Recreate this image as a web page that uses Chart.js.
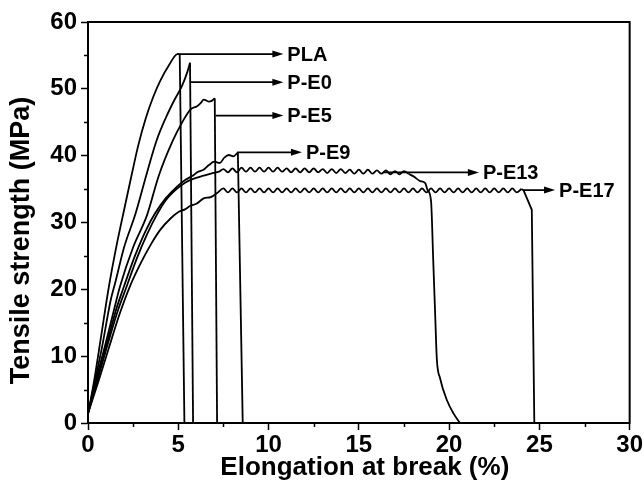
<!DOCTYPE html>
<html>
<head>
<meta charset="utf-8">
<script src="https://cdn.jsdelivr.net/npm/chart.js@4/dist/chart.umd.min.js"></script>
<style>
  html, body { margin: 0; padding: 0; background: #fff; }
  canvas { display: block; }
</style>
</head>
<body>
<canvas id="c" width="644" height="492"></canvas>
<script>
// Stress–strain curves: strain (%) and stress (MPa) for each blend.
const plaStrain = [0.02, 0.35, 0.7, 1.15, 1.6, 2.04, 2.44, 2.78, 3.2, 3.6, 4.0, 4.5, 4.95, 5.08];
const plaStress = [1.6, 6.5, 12.5, 20.3, 26.8, 32.4, 37.4, 41.5, 45.6, 48.7, 51.2, 53.6, 55.2, 55.2];
const plaBreakStrain = [5.08, 5.34];
const plaBreakStress = [55.2, 0];

const pe0Strain = [0.02, 0.4, 0.78, 1.25, 1.5, 2.0, 2.63, 3.24, 3.79, 4.3, 4.8, 5.2, 5.5, 5.65];
const pe0Stress = [1.6, 6.5, 11.4, 18.3, 20.9, 26.3, 31.3, 37.2, 42.2, 45.6, 48.4, 50.4, 52.5, 53.9];
const pe0BreakStrain = [5.65, 5.82];
const pe0BreakStress = [53.9, 0];

const pe5Strain = [0.02, 0.45, 0.93, 1.4, 1.78, 2.5, 3.27, 3.92, 4.69, 5.2, 5.67, 6.04, 6.25, 6.41, 6.69, 6.85, 7.02];
const pe5Stress = [1.6, 6.5, 11.4, 16.5, 20.5, 26.3, 31.1, 37.0, 42.2, 44.9, 46.9, 47.4, 47.9, 48.4, 48.1, 48.2, 48.6];
const pe5BreakStrain = [7.02, 7.15];
const pe5BreakStress = [48.6, 0];

const pe9Strain = [0.02, 0.48, 1.0, 1.55, 2.0, 2.6, 3.2, 3.7, 4.3, 4.9, 5.4, 5.8, 6.1, 6.4, 6.7, 7.0, 7.3, 7.55, 7.8, 8.05, 8.3];
const pe9Stress = [1.6, 6.4, 11.4, 16.9, 20.5, 25.0, 28.8, 31.3, 33.6, 35.3, 36.4, 37.0, 37.6, 37.9, 38.6, 39.1, 38.9, 39.7, 40.1, 39.9, 40.5];
const pe9BreakStrain = [8.3, 8.57];
const pe9BreakStress = [40.5, 0];

const pe13Strain = [0.02, 0.5, 1.05, 1.65, 2.15, 2.7, 3.3, 3.8, 4.3, 4.9, 5.4, 5.9, 6.4, 6.9, 7.25,
  7.5, 7.75, 8.0, 8.25, 8.5, 8.75, 9.0, 9.25, 9.5, 9.75, 10.0, 10.25, 10.5, 10.75, 11.0, 11.25,
  11.5, 11.75, 12.0, 12.25, 12.5, 12.75, 13.0, 13.25, 13.5, 13.75, 14.0, 14.25, 14.5, 14.75,
  15.0, 15.25, 15.5, 15.75, 16.0, 16.25, 16.5, 16.75, 17.0, 17.25, 17.5, 17.75];
const pe13Stress = [1.6, 6.2, 11.4, 16.8, 20.5, 24.6, 28.4, 31.1, 33.3, 35.0, 36.0, 36.6, 37.0, 37.4, 37.6,
  38.0, 37.5, 38.1, 37.5, 38.2, 37.6, 38.2, 37.6, 38.2, 37.6, 38.2, 37.6, 38.2, 37.6, 38.1, 37.5,
  38.1, 37.5, 38.1, 37.5, 38.1, 37.5, 38.0, 37.4, 38.0, 37.4, 38.0, 37.4, 37.9, 37.3,
  37.9, 37.3, 37.9, 37.3, 37.8, 37.3, 37.8, 37.2, 37.7, 37.2, 37.7, 37.3];
const pe13BreakStrain = [17.75, 18.03, 18.4, 18.68, 18.8, 19.0, 19.12, 19.22, 19.32, 19.5, 19.88, 20.25, 20.6];
const pe13BreakStress = [37.3, 36.9, 36.2, 35.9, 34.9, 33.2, 24.4, 16.9, 9.6, 6.7, 3.4, 1.4, 0];

const pe17Strain = [0.02, 0.55, 1.15, 1.75, 2.3, 2.9, 3.5, 4.0, 4.57, 5.03, 5.4, 5.67, 6.0, 6.41, 6.8, 7.15,
  7.5, 7.75, 8.0, 8.25, 8.5, 8.75, 9.0, 9.25, 9.5, 9.75, 10.0, 10.25, 10.5, 10.75, 11.0, 11.25,
  11.5, 11.75, 12.0, 12.25, 12.5, 12.75, 13.0, 13.25, 13.5, 13.75, 14.0, 14.25, 14.5, 14.75,
  15.0, 15.25, 15.5, 15.75, 16.0, 16.25, 16.5, 16.75, 17.0, 17.25, 17.5, 17.75, 18.0, 18.25,
  18.5, 18.75, 19.0, 19.25, 19.5, 19.75, 20.0, 20.25, 20.5, 20.75, 21.0, 21.25, 21.5, 21.75,
  22.0, 22.25, 22.5, 22.75, 23.0, 23.25, 23.5, 23.75, 24.0];
const pe17Stress = [1.6, 6.0, 11.2, 16.3, 20.3, 23.8, 26.8, 28.9, 30.6, 31.6, 32.0, 32.5, 32.8, 33.6, 33.8, 34.4,
  35.1, 34.5, 35.1, 34.5, 35.1, 34.5, 35.1, 34.5, 35.1, 34.5, 35.1, 34.5, 35.1, 34.5, 35.1, 34.5,
  35.1, 34.5, 35.1, 34.5, 35.1, 34.5, 35.1, 34.5, 35.1, 34.5, 35.1, 34.5, 35.1, 34.5,
  35.1, 34.5, 35.1, 34.5, 35.1, 34.5, 35.1, 34.5, 35.1, 34.5, 35.1, 34.5, 35.1, 34.5,
  35.1, 34.5, 35.1, 34.5, 35.1, 34.5, 35.1, 34.5, 35.1, 34.5, 35.1, 34.5, 35.1, 34.5,
  35.1, 34.5, 35.1, 34.5, 35.1, 34.5, 35.1, 34.5, 35.0];
const pe17BreakStrain = [24.0, 24.12, 24.58, 24.72];
const pe17BreakStress = [35.0, 34.85, 31.9, 0];

// Callout arrows pointing at each curve's name
const sampleNames = ['PLA', 'P-E0', 'P-E5', 'P-E9', 'P-E13', 'P-E17'];
const arrowStress = [55.2, 51.0, 46.0, 40.5, 37.5, 34.85];
const arrowFrom = [4.95, 5.67, 7.06, 8.26, 16.35, 24.12];
const arrowTo = [10.82, 10.82, 10.82, 11.85, 21.65, 25.87];

// Axis ticks and titles
const strainTicks = [0, 5, 10, 15, 20, 25, 30];
const strainMinor = [2.5, 7.5, 12.5, 17.5, 22.5, 27.5];
const stressTicks = [0, 10, 20, 30, 40, 50, 60];
const stressMinor = [5, 15, 25, 35, 45, 55];
const xTitle = 'Elongation at break (%)';
const yTitle = 'Tensile strength (MPa)';

const FONT = "'Liberation Sans', Arial, Helvetica, sans-serif";
const LINE_W = 1.8;

function pts(xs, ys) { return xs.map((x, i) => ({ x: x, y: ys[i] })); }

const curve = (xs, ys) => ({
  data: pts(xs, ys), showLine: true, borderColor: '#000', borderWidth: LINE_W,
  pointRadius: 0, cubicInterpolationMode: 'monotone', fill: false
});
const straight = (xs, ys) => ({
  data: pts(xs, ys), showLine: true, borderColor: '#000', borderWidth: LINE_W,
  pointRadius: 0, tension: 0, fill: false
});

const datasets = [
  curve(plaStrain, plaStress), straight(plaBreakStrain, plaBreakStress),
  curve(pe0Strain, pe0Stress), straight(pe0BreakStrain, pe0BreakStress),
  curve(pe5Strain, pe5Stress), straight(pe5BreakStrain, pe5BreakStress),
  curve(pe9Strain, pe9Stress), straight(pe9BreakStrain, pe9BreakStress),
  curve(pe13Strain, pe13Stress), curve(pe13BreakStrain, pe13BreakStress),
  curve(pe17Strain, pe17Stress), straight(pe17BreakStrain, pe17BreakStress)
];
// Arrow shafts
sampleNames.forEach((n, i) => {
  datasets.push(straight([arrowFrom[i], arrowTo[i] - 0.3], [arrowStress[i], arrowStress[i]]));
});

const decorations = {
  id: 'decorations',
  afterDatasetsDraw(chart) {
    const ctx = chart.ctx;
    const xs = chart.scales.x, ys = chart.scales.y;
    const a = chart.chartArea;
    ctx.save();
    // arrow heads and names
    ctx.fillStyle = '#000';
    ctx.font = 'bold 20px ' + FONT;
    ctx.textAlign = 'left';
    ctx.textBaseline = 'middle';
    sampleNames.forEach((n, i) => {
      const tx = xs.getPixelForValue(arrowTo[i]);
      const ty = ys.getPixelForValue(arrowStress[i]);
      ctx.beginPath();
      ctx.moveTo(tx, ty);
      ctx.lineTo(tx - 11, ty - 3.5);
      ctx.lineTo(tx - 11, ty + 3.5);
      ctx.closePath();
      ctx.fill();
      ctx.fillText(n, tx + 4, ty + 1);
    });
    // frame
    ctx.strokeStyle = '#000';
    ctx.lineWidth = 2;
    ctx.strokeRect(a.left, a.top, a.right - a.left, a.bottom - a.top);
    // minor ticks
    ctx.lineWidth = 1.5;
    ctx.beginPath();
    strainMinor.forEach(v => {
      const p = Math.round(xs.getPixelForValue(v)) + 0.5;
      ctx.moveTo(p, a.bottom);
      ctx.lineTo(p, a.bottom + 4);
    });
    stressMinor.forEach(v => {
      const p = Math.round(ys.getPixelForValue(v)) + 0.5;
      ctx.moveTo(a.left, p);
      ctx.lineTo(a.left - 4, p);
    });
    ctx.stroke();
    // axis titles
    ctx.textAlign = 'center';
    ctx.textBaseline = 'middle';
    ctx.font = 'bold 26px ' + FONT;
    ctx.fillText(xTitle, (a.left + a.right) / 2 + 6, a.bottom + 45);
    ctx.translate(22, (a.top + a.bottom) / 2 + 18);
    ctx.rotate(-Math.PI / 2);
    ctx.font = 'bold 27px ' + FONT;
    ctx.fillText(yTitle, 0, 0);
    ctx.restore();
  }
};

new Chart(document.getElementById('c'), {
  type: 'scatter',
  data: { datasets: datasets },
  plugins: [decorations],
  options: {
    responsive: false,
    animation: false,
    devicePixelRatio: 1,
    layout: { padding: { left: 0, right: 14, top: 22, bottom: 0 } },
    plugins: { legend: { display: false }, tooltip: { enabled: false } },
    elements: { point: { radius: 0 } },
    scales: {
      x: {
        type: 'linear', min: 0, max: 30,
        afterBuildTicks: s => { s.ticks = strainTicks.map(v => ({ value: v })); },
        afterFit: s => { s.height = 69; },
        ticks: { color: '#000', font: { family: FONT, size: 24, weight: 'bold' }, padding: 1, maxRotation: 0 },
        grid: { drawOnChartArea: false, drawTicks: true, tickLength: 7, tickWidth: 1.5, tickColor: '#000' },
        border: { display: true, color: '#000', width: 2 },
        title: { display: false }
      },
      y: {
        type: 'linear', min: 0, max: 60,
        afterBuildTicks: s => { s.ticks = stressTicks.map(v => ({ value: v })); },
        afterFit: s => { s.width = 88; },
        ticks: { color: '#000', font: { family: FONT, size: 24, weight: 'bold' }, padding: 4 },
        grid: { drawOnChartArea: false, drawTicks: true, tickLength: 7, tickWidth: 1.5, tickColor: '#000' },
        border: { display: true, color: '#000', width: 2 },
        title: { display: false }
      }
    }
  }
});
</script>
</body>
</html>
